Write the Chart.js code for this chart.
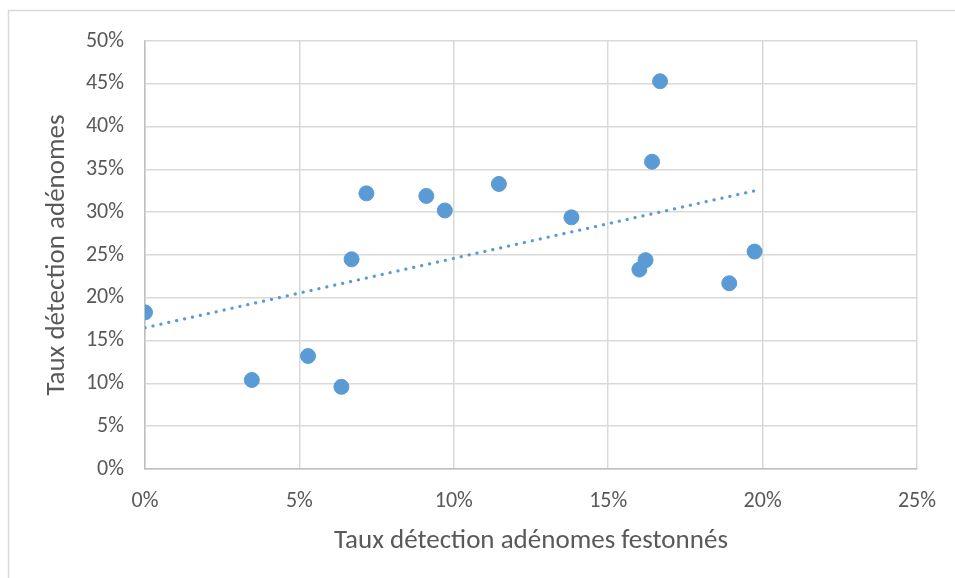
<!DOCTYPE html>
<html>
<head>
<meta charset="utf-8">
<script src="https://cdn.jsdelivr.net/npm/chart.js@4"></script>
<style>
  html, body { margin: 0; padding: 0; background: #fff; }
  #wrap { position: relative; width: 955px; height: 578px; }
</style>
</head>
<body>
<div id="wrap"><canvas id="scatterChart" width="955" height="578"></canvas></div>
<script>
// detection rate of serrated adenomas (x, %) vs adenoma detection rate (y, %)
const serratedRate = [0.0, 3.46, 5.28, 6.36, 6.69, 7.17, 9.11, 9.71, 11.46, 13.81, 16.01, 16.21, 16.42, 16.68, 18.92, 19.74];
const adenomaRate = [18.3, 10.4, 13.2, 9.6, 24.5, 32.2, 31.9, 30.2, 33.3, 29.4, 23.3, 24.4, 35.9, 45.3, 21.7, 25.4];

// linear trendline, end points
const trendX = [0, 19.74];
const trendY = [16.5, 32.5];

const xTicks = [0, 5, 10, 15, 20, 25];
const yTicks = [0, 5, 10, 15, 20, 25, 30, 35, 40, 45, 50];

const blue = "#5B9BD5";
const font = "Carlito, Calibri, Lato, sans-serif";

// light frame around the chart area, like the Excel chart border
const framePlugin = {
  id: "frame",
  beforeDraw(chart) {
    const ctx = chart.ctx;
    ctx.save();
    ctx.strokeStyle = "#D9D9D9";
    ctx.lineWidth = 1.5;
    ctx.strokeRect(8.5, 10.5, 1000, 1000);
    ctx.restore();
  }
};

const ctx = document.getElementById("scatterChart").getContext("2d");
const chart = new Chart(ctx, {
  type: "scatter",
  data: {
    datasets: [
      {
        label: "Taux",
        data: serratedRate.map((x, i) => ({ x: x, y: adenomaRate[i] })),
        backgroundColor: blue,
        borderColor: blue,
        pointRadius: 7.5,
        pointHoverRadius: 7.5,
        order: 1,
      },
      {
        label: "Tendance",
        type: "line",
        data: trendX.map((x, i) => ({ x: x, y: trendY[i] })),
        borderColor: blue,
        borderWidth: 3.2,
        borderDash: [0.1, 8],
        borderCapStyle: "round",
        pointRadius: 0,
        fill: false,
        order: 2,
      },
    ],
  },
  options: {
    responsive: false,
    animation: false,
    layout: {
      padding: { left: 36, top: 41, right: 37, bottom: 0 }
    },
    plugins: {
      legend: { display: false },
      tooltip: { enabled: false }
    },
    scales: {
      x: {
        type: "linear",
        min: 0,
        max: 25,
        afterBuildTicks: (scale) => { scale.ticks = xTicks.map(v => ({ value: v })); },
        afterFit: (scale) => { scale.height = 109; },
        grid: { color: "#D9D9D9", lineWidth: 1.5, drawTicks: false },
        border: { color: "#BFBFBF", width: 1.5 },
        ticks: {
          padding: 19,
          color: "#595959",
          font: { family: font, size: 22 },
          callback: (v) => v + "%"
        },
        title: {
          display: true,
          text: "Taux détection adénomes festonnés",
          color: "#595959",
          font: { family: font, size: 27 },
          padding: { top: 8, bottom: 21 }
        }
      },
      y: {
        type: "linear",
        min: 0,
        max: 50,
        afterBuildTicks: (scale) => { scale.ticks = yTicks.map(v => ({ value: v })); },
        afterFit: (scale) => { scale.width = 109; },
        grid: { color: "#D9D9D9", lineWidth: 1.5, drawTicks: false },
        border: { color: "#BFBFBF", width: 1.5 },
        ticks: {
          padding: 21,
          color: "#595959",
          font: { family: font, size: 22 },
          callback: (v) => v + "%"
        },
        title: {
          display: true,
          text: "Taux détection adénomes",
          color: "#595959",
          font: { family: font, size: 27 },
          padding: { top: 5, bottom: 4 }
        }
      }
    }
  },
  plugins: [framePlugin]
});
</script>
</body>
</html>
